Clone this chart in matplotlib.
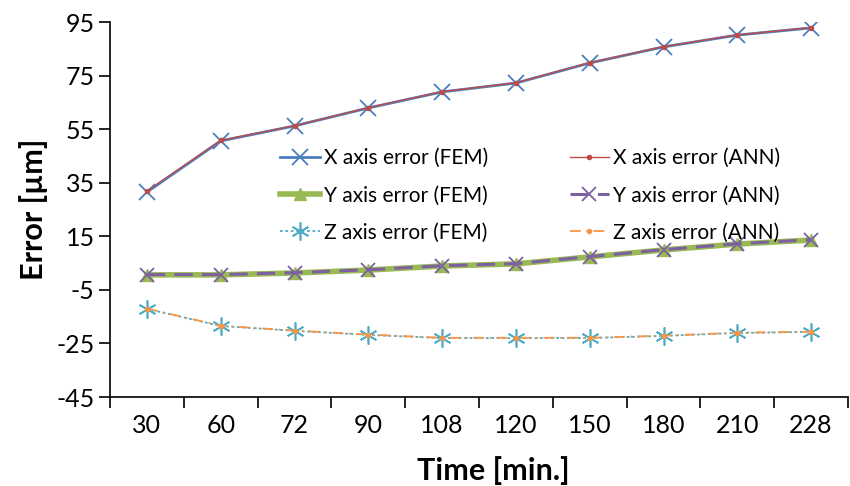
import numpy as np
import matplotlib.pyplot as plt
from matplotlib.ticker import FixedLocator

plt.rcParams['font.family'] = ['Lato', 'DejaVu Sans']
plt.rcParams['axes.unicode_minus'] = False

times = ['30', '60', '72', '90', '108', '120', '150', '180', '210', '228']

x_fem = [31.5, 50.6, 56.2, 62.9, 68.9, 72.2, 79.7, 85.7, 90.1, 92.8]
x_ann = [31.9, 50.8, 56.3, 63.0, 69.0, 72.3, 79.8, 85.8, 90.2, 92.9]
y_fem = [0.6, 0.6, 1.3, 2.4, 3.9, 4.7, 7.3, 9.9, 12.1, 13.6]
y_ann = [0.7, 0.7, 1.4, 2.5, 4.0, 4.8, 7.4, 10.0, 12.2, 13.7]
z_fem = [-12.1, -18.5, -20.3, -21.8, -23.0, -23.0, -23.0, -22.2, -21.1, -20.7]
z_ann = [-12.0, -18.4, -20.2, -21.7, -22.9, -22.9, -22.9, -22.1, -21.0, -20.6]

pos = np.arange(len(times))

fig = plt.figure(figsize=(8.5, 4.86), dpi=100)
ax = fig.add_axes([110/850, 1-397/486, 738/850, 375/486])

ax.plot(pos, x_fem, color='#4a7ebb', lw=2, marker='x', ms=11, mew=1.3, label='X axis error (FEM)')
ax.plot(pos, x_ann, color='#be4b48', lw=1, marker='o', ms=3, label='X axis error (ANN)')
ax.plot(pos, y_fem, color='#98b954', lw=4, marker='^', ms=8, label='Y axis error (FEM)')
ax.plot(pos, y_ann, color='#7d60a0', lw=2.2, ls=(0, (6, 3)), marker='x', ms=10, mew=1.3,
        label='Y axis error (ANN)')
ax.plot(pos, z_fem, color='#4bacc6', lw=1.3, ls=(0, (1.5, 1.5)), marker=(6, 2, 0), ms=13, mew=1.2,
        label='Z axis error (FEM)')
ax.plot(pos, z_ann, color='#f79646', lw=1.3, ls=(0, (6, 3, 1, 3)), marker='o', ms=3,
        label='Z axis error (ANN)')

ax.set_xlim(-0.5, len(times) - 0.5)
ax.set_ylim(-45, 95)
ax.set_yticks(np.arange(-45, 96, 20))
ax.set_xticks(pos)
ax.set_xticklabels(times)
ax.xaxis.set_minor_locator(FixedLocator(np.arange(-0.5, len(times), 1.0)))
ax.tick_params(axis='x', which='major', length=0, pad=12, labelsize=18)
ax.tick_params(axis='x', which='minor', length=8, width=1.2, direction='out')
ax.tick_params(axis='y', length=8, width=1.2, direction='out', labelsize=18, pad=3)

for s in ['top', 'right']:
    ax.spines[s].set_visible(False)
for s in ['left', 'bottom']:
    ax.spines[s].set_linewidth(1.2)

ax.set_xlabel('Time [min.]', fontsize=22, fontweight='bold')
ax.xaxis.set_label_coords(0.52, -0.158)
ax.set_ylabel('Error [µm]', fontsize=22, fontweight='bold', labelpad=6)

# legend filled row by row: FEM on the left, ANN on the right
h, l = ax.get_legend_handles_labels()
order = [0, 2, 4, 1, 3, 5]
ax.legend([h[i] for i in order], [l[i] for i in order], ncol=2, frameon=False, fontsize=15,
          loc='upper left', bbox_to_anchor=(272/850, 1-140/486), bbox_transform=fig.transFigure,
          handlelength=1.9, handletextpad=0.2, columnspacing=3.9, labelspacing=0.82,
          borderaxespad=0)

fig.savefig('out.png', dpi=100)
